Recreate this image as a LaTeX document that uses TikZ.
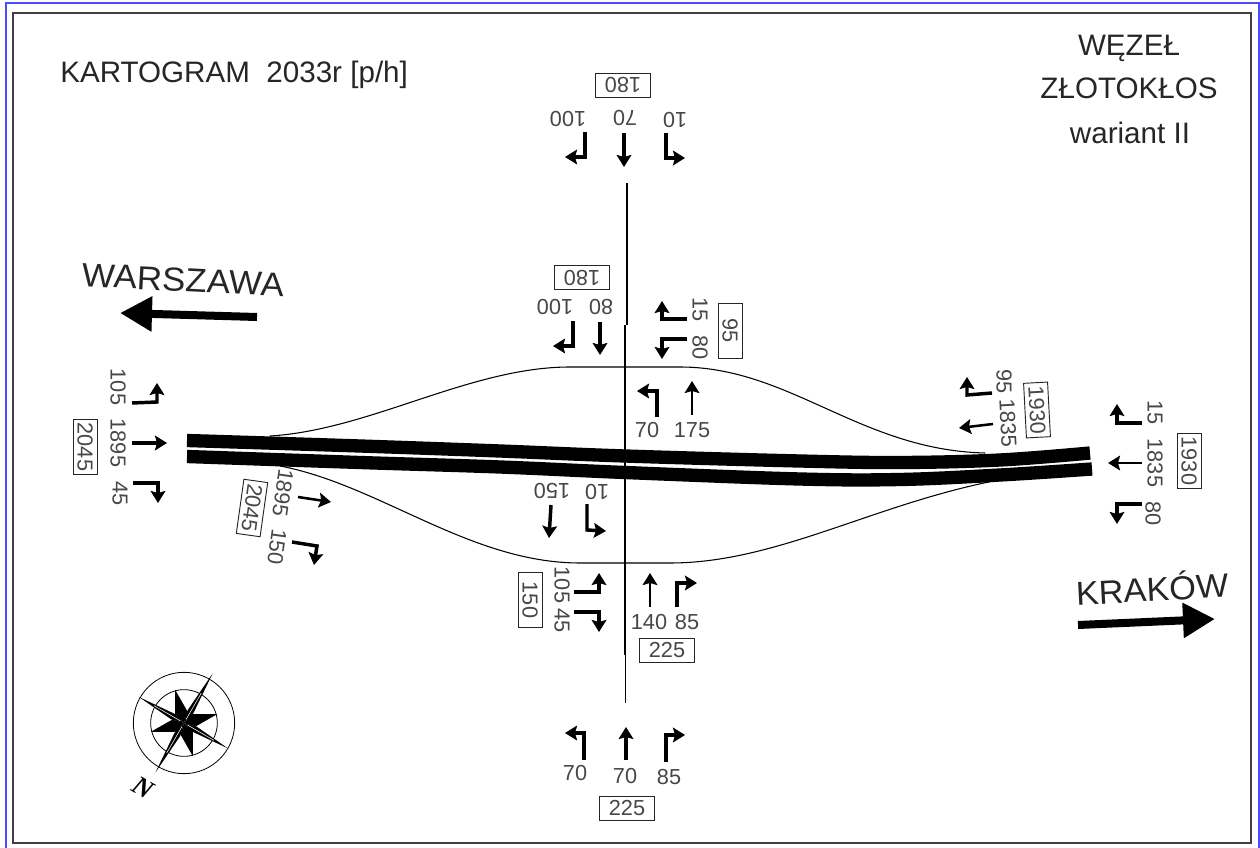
\documentclass[tikz,border=0pt]{standalone}
\usepackage{fontspec}
\setmainfont{Liberation Sans}
\newfontfamily\northfont{Liberation Serif}
\usetikzlibrary{arrows.meta, calc}

\tikzset{
  turn/.style={->, line width=2.6pt},
  thinturn/.style={->, line width=1.9pt},
  ramp/.style={line width=0.8pt},
  band/.style={line width=10pt},
  lbl/.style={font=\fontsize{16.3}{18}\selectfont, text=black!72, inner sep=0pt},
  sum/.style={lbl, draw=black!85, line width=0.7pt, minimum width=41pt, minimum height=18pt},
  head/.style={font=\fontsize{22.2}{24}\selectfont, text=black!85, inner sep=0pt},
  city/.style={font=\fontsize{25}{27}\selectfont, text=black!85, inner sep=0pt},
  bigarrow/.style={-{Triangle[length=24pt,width=25pt]}, line width=6pt},
}

\begin{document}
\begin{tikzpicture}[x=0.75pt, y=-0.75pt, >={Stealth[length=9pt,width=11pt,inset=1.5pt]}]
  % Ramki
  \useasboundingbox (0,0) rectangle (1260,848);
  \draw[blue!70!white, line width=1.5pt] (6,848) -- (6,3.5) -- (1259,3.5) -- (1259,848);
  \draw[black!75, line width=1.5pt] (12.5,13) rectangle (1251,843);

  % Tytuly
  \node[head, anchor=west] (title) at (60,75) {KARTOGRAM\ \ 2033r [p/h]};
  \node[head] (title1) at (1129,48) {WĘZEŁ};
  \node[head] (title2) at (1129,88) {ZŁOTOKŁOS};
  \node[head] (title3) at (1130,133) {wariant II};

  % Kierunki
  \node[city, rotate=-3] (warszawa) at (183,280) {\scalebox{1.05}[1]{WARSZAWA}};
  \node[city, rotate=3] (krakow) at (1152,587) {\scalebox{1.03}[1]{KRAKÓW}};
  \draw[bigarrow] (257,317) -- (120,313);
  \draw[bigarrow] (1078,625) -- (1215,619);

  % Lewa strona, za wezlem
  \node[lbl, rotate=-98] (t1895b) at (283,493) {1895};
  \node[lbl, rotate=-98] (t150a) at (277,547) {150};
  \node[sum, rotate=-98] (s2045b) at (252,508) {2045};
  \draw[thinturn] (298,497) -- (331,502);
  \draw[turn] (292,542) -- (317,546) -- (314,565);

  % Droga glowna
  \draw[band] plot[smooth, tension=0.6] coordinates {(187,440.5) (360,446) (500,451) (625,456) (800,461) (900,462.5) (1000,460) (1090,453)};
  \draw[band] plot[smooth, tension=0.6] coordinates {(187,456.5) (360,462.5) (500,467) (625,472.5) (800,479) (900,479.5) (1000,475) (1092,469)};

  % Laczniki
  \draw[ramp] (270,436) .. controls (370,430) and (470,367) .. (570,367) -- (680,367) .. controls (790,367) and (860,450) .. (985,453);
  \draw[ramp] (280,466) .. controls (380,485) and (470,563) .. (580,563) -- (670,563) .. controls (780,563) and (880,500) .. (1010,478);

  % Droga poprzeczna
  \draw[line width=1.6pt] (627,183) -- (627,325);
  \draw[line width=1pt] (625,325) -- (625,455);
  \draw[line width=1.6pt] (625,455) -- (625,655);
  \draw[line width=0.7pt] (625,655) -- (625,703);

  % Gora
  \node[sum, rotate=180] (s180a) at (623,85) {180};
  \node[lbl, rotate=180] (t100a) at (568,119) {100};
  \node[lbl, rotate=180] (t70a) at (625,118) {70};
  \node[lbl, rotate=180] (t10a) at (675,120) {10};
  \draw[turn] (585,132) -- (585,157) -- (565,157);
  \draw[turn] (624,133) -- (624,167);
  \draw[turn] (666,133) -- (666,158) -- (685,158);

  % Nad lacznikiem
  \node[sum, rotate=180] (s180b) at (582,277.5) {180};
  \node[lbl, rotate=180] (t100b) at (555,307) {100};
  \node[lbl, rotate=180] (t80b) at (601,307) {80};
  \draw[turn] (573,321) -- (573,346) -- (553,346);
  \draw[turn] (600,322) -- (600,355);
  \draw[turn] (687,319) -- (662,319) -- (662,301);
  \draw[turn] (687,339) -- (662,339) -- (662,359);
  \node[lbl, rotate=-90] (t15b) at (700,310) {15};
  \node[lbl, rotate=-90] (t80c) at (700,348) {80};
  \node[sum, rotate=-90] (s95) at (730,331) {95};
  \draw[turn] (657,417) -- (657,391) -- (637,391);
  \draw[thinturn] (692,415) -- (692,381);
  \node[lbl] (t70b) at (647,430) {70};
  \node[lbl] (t175) at (692,430) {175};

  % Lewa strona
  \node[lbl, rotate=-90] (t105a) at (118,387) {105};
  \node[lbl, rotate=-90] (t1895a) at (118,443) {1895};
  \node[lbl, rotate=-90] (t45a) at (120,494) {45};
  \node[sum, rotate=-90] (s2045a) at (85,447) {2045};
  \draw[turn] (132,403) -- (157,402) -- (157,383);
  \draw[turn] (132,443) -- (167,443);
  \draw[turn] (133,483) -- (158,483) -- (158,503);

  % Pod lacznikiem
  \node[lbl, rotate=180] (t150b) at (552,491) {150};
  \node[lbl, rotate=180] (t10b) at (597,492) {10};
  \draw[turn] (551,505) -- (549,538);
  \draw[turn] (587,504) -- (587,530) -- (606,531);
  \node[lbl, rotate=-90] (t105b) at (562,585) {105};
  \node[lbl, rotate=-90] (t45b) at (562,621) {45};
  \node[sum, rotate=-90] (s150) at (530,600) {150};
  \draw[turn] (574,592) -- (599,592) -- (599,573);
  \draw[turn] (574,612) -- (599,612) -- (599,632);
  \draw[thinturn] (650,607) -- (650,573);
  \draw[turn] (677,607) -- (677,583) -- (697,583);
  \node[lbl] (t140) at (649,622) {140};
  \node[lbl] (t85a) at (687,622) {85};
  \node[sum] (s225a) at (667,650) {225};

  % Prawa strona
  \node[lbl, rotate=-90] (t95) at (1004,382) {95};
  \node[lbl, rotate=-87] (t1835a) at (1008,423) {1835};
  \node[sum, rotate=-87] (s1930a) at (1037,410) {1930};
  \draw[turn] (992,393) -- (967,395) -- (967,377);
  \draw[thinturn] (993,424) -- (959,428);
  \draw[turn] (1142,423) -- (1117,423) -- (1117,404);
  \draw[thinturn] (1142,463) -- (1108,463);
  \draw[turn] (1142,504) -- (1117,504) -- (1117,524);
  \node[lbl, rotate=-90] (t15c) at (1155,413) {15};
  \node[lbl, rotate=-90] (t1835b) at (1155,463) {1835};
  \node[lbl, rotate=-90] (t80d) at (1153,514) {80};
  \node[sum, rotate=-90] (s1930b) at (1189,461) {1930};

  % Dol
  \draw[turn] (584,760) -- (584,733) -- (565,733);
  \draw[turn] (626,760) -- (626,727);
  \draw[turn] (666,762) -- (666,735) -- (685,735);
  \node[lbl] (t70c) at (575,773) {70};
  \node[lbl] (t70d) at (625,776) {70};
  \node[lbl] (t85b) at (669,777) {85};
  \node[sum] (s225b) at (627,808) {225};

  % Roza wiatrow
  \coordinate (rose) at (184,723);
  \draw[line width=0.6pt] (rose) circle[radius=38pt];
  \draw[line width=0.6pt] (rose) circle[radius=25pt];
  \foreach \a in {15,105,195,285} {
    \fill (rose) -- ($(rose)+(\a+32:9pt)$) -- ($(rose)+(\a:26pt)$) -- ($(rose)+(\a-32:9pt)$) -- cycle;
  }
  \foreach \a/\r in {60/43,150/39,240/43,330/38} {
    \fill (rose) -- ($(rose)+(\a+14:10pt)$) -- ($(rose)+(\a:\r pt)$) -- ($(rose)+(\a-14:10pt)$) -- cycle;
    \draw[white, line width=0.4pt] ($(rose)+(\a:3pt)$) -- ($(rose)+(\a:26pt)$);
  }
  \node[font=\fontsize{20}{22}\selectfont\northfont\bfseries\itshape, rotate=-30, inner sep=0pt] (north) at (143,788) {N};
\end{tikzpicture}
\end{document}
